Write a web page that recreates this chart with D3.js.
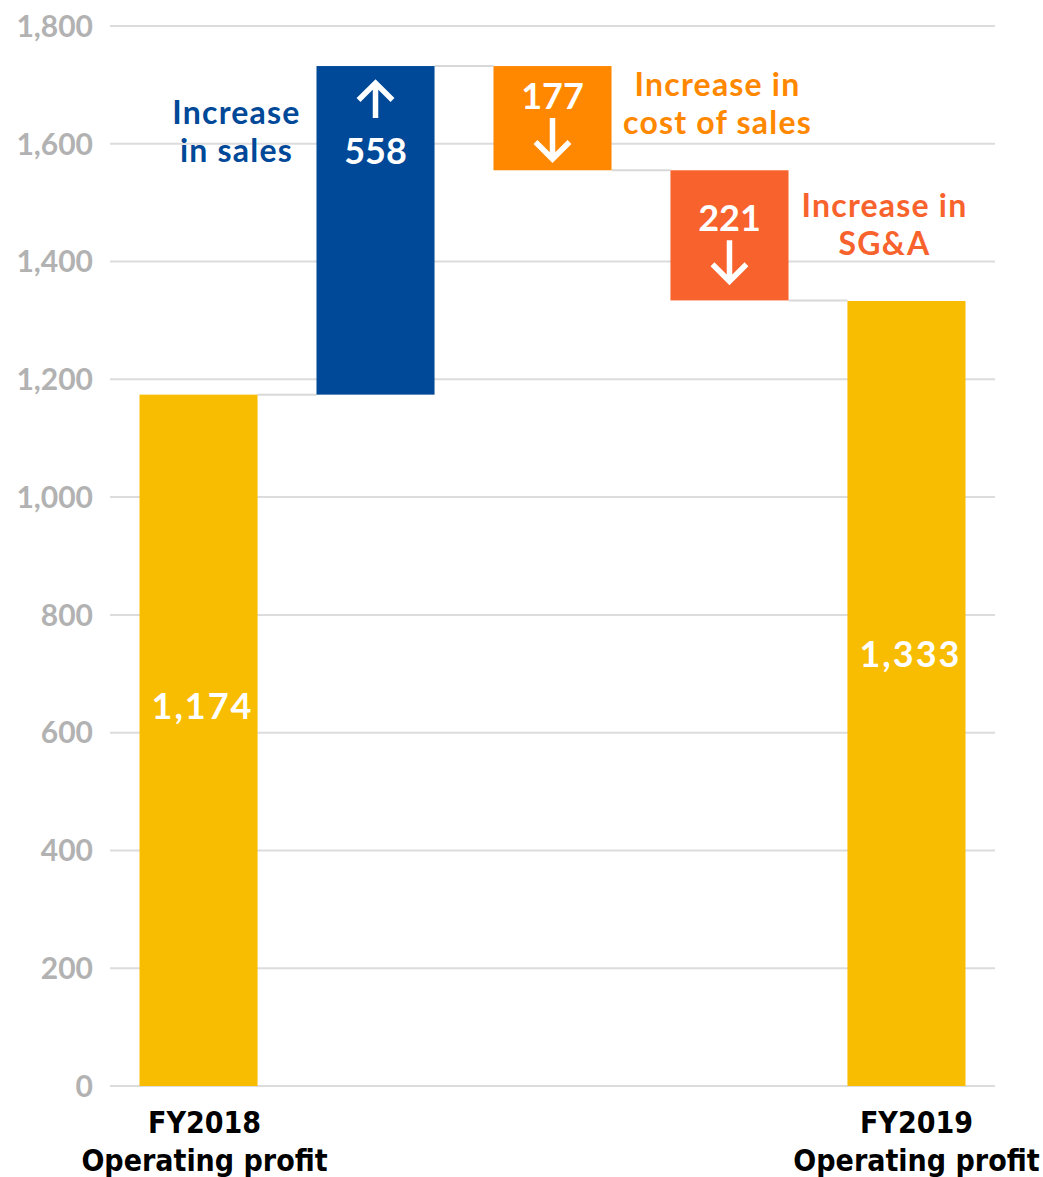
<!DOCTYPE html>
<meta charset="utf-8">
<style>
  body { margin: 0; background: #fff; }
  svg text { font-family: Lato, "Noto Sans", sans-serif; }
</style>
<svg width="1043" height="1177"></svg>
<script src="https://d3js.org/d3.v7.min.js"></script>
<script>
// data
const steps = ["FY2018", "sales", "cost", "sga", "FY2019"];
const amounts = [1174, 558, -177, -221, 1333];
const kinds = ["total", "delta", "delta", "delta", "total"];
const barColors = ["#f8bc00", "#004898", "#ff8800", "#f8622c", "#f8bc00"];
const yTicks = [0, 200, 400, 600, 800, 1000, 1200, 1400, 1600, 1800];
const notes = [
  null,
  ["Increase", "in sales"],
  ["Increase in", "cost of sales"],
  ["Increase in", "SG&A"],
  null
];
const xLabels = [["FY2018", "Operating profit"], null, null, null, ["FY2019", "Operating profit"]];

const svg = d3.select("svg");
const margin = {top: 26, right: 48, bottom: 91, left: 110};
const W = 1043, H = 1177;

const x = d3.scaleBand(steps, [margin.left, W - margin.right])
    .paddingInner(0.333)
    .paddingOuter(0.1667);
const y = d3.scaleLinear([0, 1800], [H - margin.bottom, margin.top]);

// running totals
let run = 0;
const bars = steps.map((s, i) => {
  let lo, hi;
  if (kinds[i] === "total") { lo = 0; hi = amounts[i]; run = amounts[i]; }
  else { const prev = run; run += amounts[i]; lo = Math.min(prev, run); hi = Math.max(prev, run); }
  return {key: s, i, lo, hi, end: run, value: amounts[i], color: barColors[i]};
});

// grid
svg.append("g")
  .selectAll("line")
  .data(yTicks)
  .join("line")
    .attr("x1", margin.left)
    .attr("x2", W - margin.right)
    .attr("y1", d => y(d))
    .attr("y2", d => y(d))
    .attr("stroke", "#dcdcdc")
    .attr("stroke-width", 2);

svg.append("g")
    .attr("font-size", 30)
    .attr("font-weight", 700)
    .attr("text-anchor", "end")
  .selectAll("text")
  .data(yTicks)
  .join("text")
    .attr("x", 93)
    .attr("y", d => y(d))
    .attr("dy", "0.36em")
    .style("fill", "#b2b2b2")
    .text(d3.format(","));

// connectors
svg.append("g")
    .attr("stroke", "#d8d8d8")
    .attr("stroke-width", 2)
  .selectAll("line")
  .data(bars.slice(0, -1))
  .join("line")
    .attr("x1", d => x(d.key) + x.bandwidth())
    .attr("x2", d => x(steps[d.i + 1]))
    .attr("y1", d => y(d.end))
    .attr("y2", d => y(d.end));

// bars
svg.append("g")
  .selectAll("rect")
  .data(bars)
  .join("rect")
    .attr("x", d => x(d.key))
    .attr("width", x.bandwidth())
    .attr("y", d => y(d.hi))
    .attr("height", d => y(d.lo) - y(d.hi))
    .attr("fill", d => d.color);

// value labels
const fmt = d3.format(",");
const vg = svg.append("g")
    .attr("font-size", 36)
    .attr("font-weight", 700)
    .attr("text-anchor", "middle");

bars.forEach(d => {
  const cx = x(d.key) + x.bandwidth() / 2;
  const top = y(d.hi);
  if (kinds[d.i] === "total") {
    vg.append("text")
      .attr("x", cx + 4)
      .attr("y", y(d.value * 0.55))
      .attr("dy", "0.36em")
      .attr("letter-spacing", 2)
      .style("fill", "#fff")
      .text(fmt(d.value));
  } else if (d.value > 0) {
    arrow(cx, top + 17, top + 52, true);
    vg.append("text").attr("x", cx).attr("y", top + 85).attr("dy", "0.36em")
      .style("fill", "#fff").text(fmt(d.value));
  } else {
    // label sits a bit lower in the taller box
    const off = (y(d.lo) - top) > 115 ? 48 : 30;
    vg.append("text").attr("x", cx).attr("y", top + off).attr("dy", "0.36em")
      .style("fill", "#fff").text(fmt(-d.value));
    arrow(cx, top + off + 22, top + off + 63, false);
  }
});

function arrow(cx, y0, y1, up) {
  const tip = up ? y0 : y1, tail = up ? y1 : y0;
  const dir = up ? 1 : -1;
  const p = d3.path();
  p.moveTo(cx, tail); p.lineTo(cx, tip + dir * 2);
  p.moveTo(cx - 17, tip + dir * 17); p.lineTo(cx, tip); p.lineTo(cx + 17, tip + dir * 17);
  vg.append("path").attr("d", p.toString())
    .attr("fill", "none").attr("stroke", "#fff").attr("stroke-width", 5.5);
}

// notes next to deltas (centred lines)
const notePlace = d => {
  if (d.i === 1) return {cx: x(d.key) - 80, y0: 112};
  if (d.i === 2) return {cx: x(d.key) + x.bandwidth() + 106, y0: 84};
  return {cx: x(d.key) + x.bandwidth() + 96, y0: 205};
};
svg.append("g")
    .attr("font-size", 32)
    .attr("font-weight", 700)
    .attr("text-anchor", "middle")
  .selectAll("text")
  .data(bars.filter(d => notes[d.i]))
  .join("text")
    .style("fill", d => d.color)
    .attr("letter-spacing", 1.2)
    .each(function(d) {
      const t = d3.select(this);
      const pos = notePlace(d);
      notes[d.i].forEach((line, k) => {
        t.append("tspan")
          .attr("x", pos.cx)
          .attr("y", pos.y0 + k * 38)
          .attr("dy", "0.36em")
          .text(line);
      });
    });

// category labels
svg.append("g")
    .attr("font-size", 30)
    .attr("font-weight", 700)
    .attr("text-anchor", "middle")
  .selectAll("text")
  .data(bars.filter(d => xLabels[d.i]))
  .join("text")
    .style("font-family", "'DejaVu Sans Condensed', 'Liberation Sans Narrow', sans-serif")
    .style("fill", "#000")
    .each(function(d) {
      const t = d3.select(this);
      const cx = x(d.key) + x.bandwidth() / 2 + (d.i === 0 ? 6 : 10);
      xLabels[d.i].forEach((line, k) => {
        t.append("tspan").attr("x", cx).attr("y", 1122 + k * 38).attr("dy", "0.36em").text(line);
      });
    });
</script>
